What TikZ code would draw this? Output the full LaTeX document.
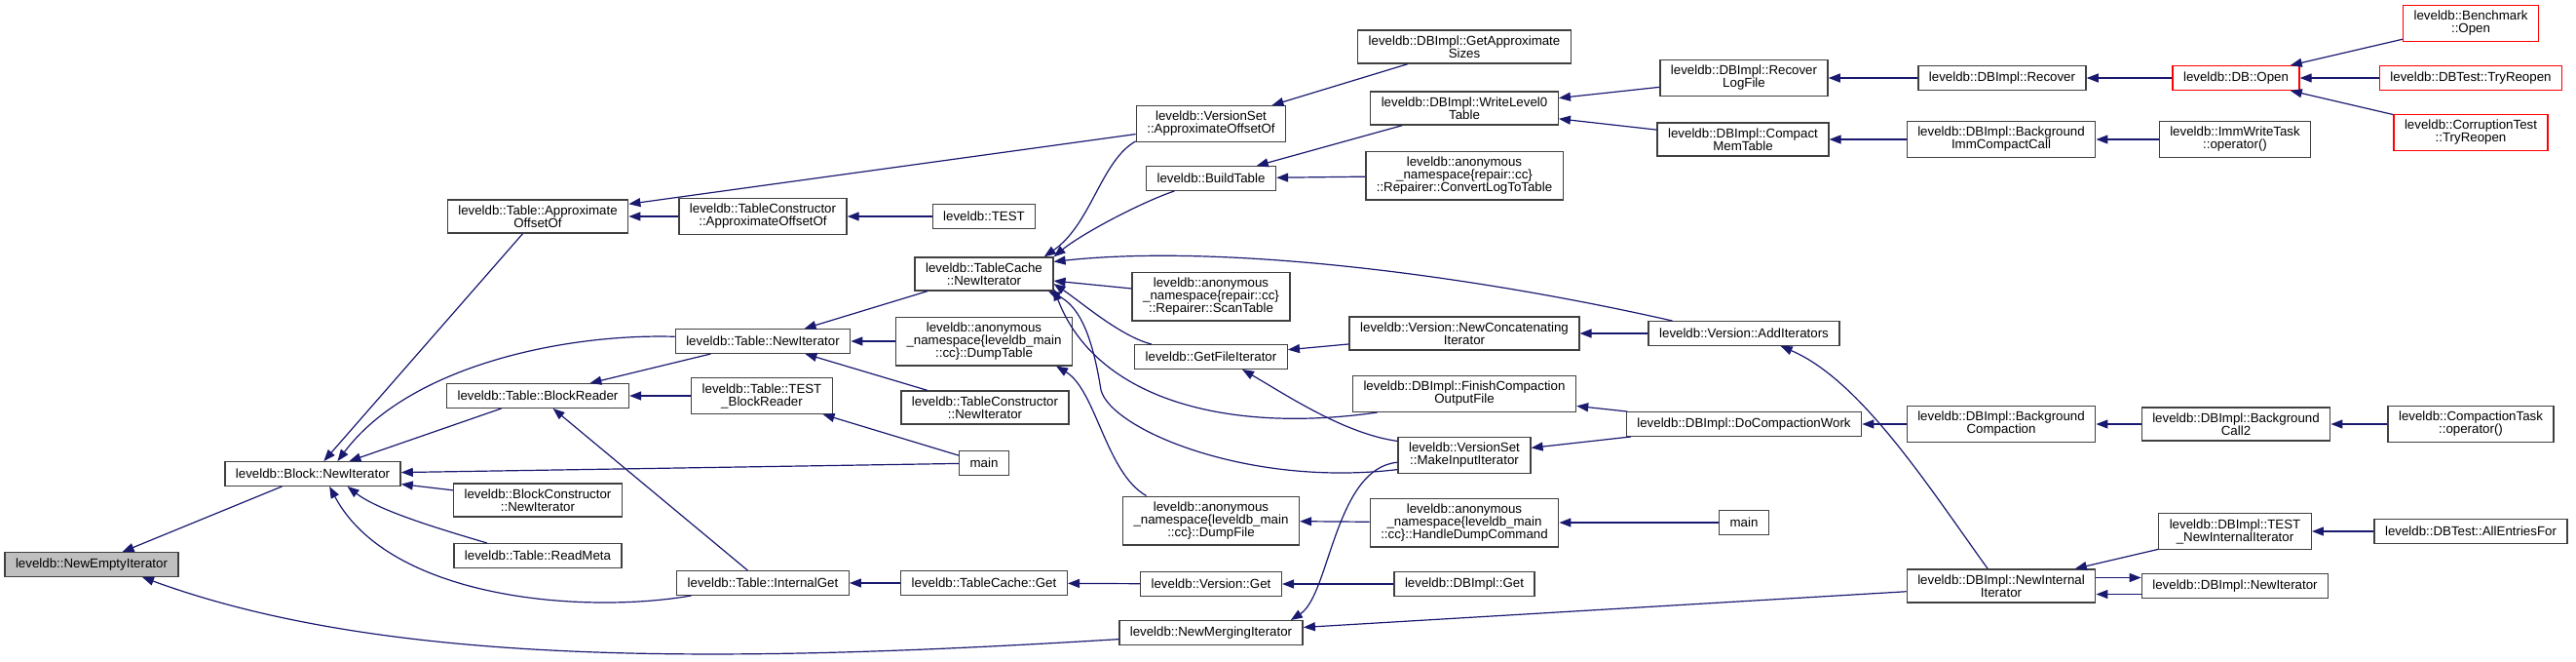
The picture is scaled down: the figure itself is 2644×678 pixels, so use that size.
\documentclass[tikz,border=0pt]{standalone}
\usepackage{fontspec}
\setmainfont{Liberation Sans}
\usetikzlibrary{arrows.meta}
\definecolor{edgeblue}{RGB}{25,25,112}

\begin{document}
\begin{tikzpicture}[
  x=1pt,y=-1pt,
  box/.style={draw=black!75,line width=1.4pt,fill=white,align=center,
              inner xsep=11pt,inner ysep=5.6pt,minimum height=24.5pt,
              font=\fontsize{13.3}{13}\selectfont},
  focus/.style={box,fill=black!25},
  truncated/.style={box,draw=red},
  arrow/.style={-{Triangle[length=12pt,width=9pt]},edgeblue,line width=1.2pt}
]
  \useasboundingbox (0,0) rectangle (2644,678);
  \node[focus] (nempty) at (94,579) {leveldb::NewEmptyIterator};
  \node[box] (blockit) at (321,486) {leveldb::Block::NewIterator};
  \node[box] (tapprox) at (552,222) {leveldb::Table::Approximate\\OffsetOf};
  \node[box] (tcapprox) at (783,222) {leveldb::TableConstructor\\::ApproximateOffsetOf};
  \node[box] (test) at (1010,222) {leveldb::TEST};
  \node[box] (vsapprox) at (1243,127) {leveldb::VersionSet\\::ApproximateOffsetOf};
  \node[box] (getsizes) at (1503,48) {leveldb::DBImpl::GetApproximate\\Sizes};
  \node[box] (buildtab) at (1243,183) {leveldb::BuildTable};
  \node[box] (writel0) at (1503,111) {leveldb::DBImpl::WriteLevel0\\Table};
  \node[box] (convlog) at (1503,180) {leveldb::anonymous\\\_namespace\{repair::cc\}\\::Repairer::ConvertLogToTable};
  \node[box] (recoverlog) at (1790,80) {leveldb::DBImpl::Recover\\LogFile};
  \node[box] (compactmem) at (1789,143) {leveldb::DBImpl::Compact\\MemTable};
  \node[box] (recover) at (2055,80) {leveldb::DBImpl::Recover};
  \node[box] (immcall) at (2054,143) {leveldb::DBImpl::Background\\ImmCompactCall};
  \node[truncated] (dbopen) at (2295,80) {leveldb::DB::Open};
  \node[truncated] (benchopen) at (2536,24) {leveldb::Benchmark\\::Open};
  \node[truncated] (dbtreopen) at (2536,80) {leveldb::DBTest::TryReopen};
  \node[truncated] (corrreopen) at (2536,136) {leveldb::CorruptionTest\\::TryReopen};
  \node[box] (immtask) at (2294,143) {leveldb::ImmWriteTask\\::operator()};
  \node[box] (tcacheit) at (1010,281) {leveldb::TableCache\\::NewIterator};
  \node[box] (scantab) at (1243,304) {leveldb::anonymous\\\_namespace\{repair::cc\}\\::Repairer::ScanTable};
  \node[box] (tnewit) at (783,350) {leveldb::Table::NewIterator};
  \node[box] (dumptab) at (1010,350) {leveldb::anonymous\\\_namespace\{leveldb\_main\\::cc\}::DumpTable};
  \node[box] (tcnewit) at (1011,418) {leveldb::TableConstructor\\::NewIterator};
  \node[box] (getfileit) at (1243,366) {leveldb::GetFileIterator};
  \node[box] (newconcat) at (1503,342) {leveldb::Version::NewConcatenating\\Iterator};
  \node[box] (additers) at (1790,342) {leveldb::Version::AddIterators};
  \node[box] (blockread) at (552,406) {leveldb::Table::BlockReader};
  \node[box] (testblock) at (782,406) {leveldb::Table::TEST\\\_BlockReader};
  \node[box] (finishout) at (1503,404) {leveldb::DBImpl::FinishCompaction\\OutputFile};
  \node[box] (mkinput) at (1503,467) {leveldb::VersionSet\\::MakeInputIterator};
  \node[box] (docompact) at (1790,435) {leveldb::DBImpl::DoCompactionWork};
  \node[box] (bgcompact) at (2054,435) {leveldb::DBImpl::Background\\Compaction};
  \node[box] (bgcall) at (2295,435) {leveldb::DBImpl::Background\\Call2};
  \node[box] (comptask) at (2536,435) {leveldb::CompactionTask\\::operator()};
  \node[box] (mainA) at (1010,475) {main};
  \node[box] (bcnewit) at (552,513) {leveldb::BlockConstructor\\::NewIterator};
  \node[box] (dumpfile) at (1243,534) {leveldb::anonymous\\\_namespace\{leveldb\_main\\::cc\}::DumpFile};
  \node[box] (handledump) at (1503,536) {leveldb::anonymous\\\_namespace\{leveldb\_main\\::cc\}::HandleDumpCommand};
  \node[box] (mainB) at (1790,536) {main};
  \node[box] (readmeta) at (552,570) {leveldb::Table::ReadMeta};
  \node[box] (internalget) at (783,598) {leveldb::Table::InternalGet};
  \node[box] (tcget) at (1010,598) {leveldb::TableCache::Get};
  \node[box] (versget) at (1243,599) {leveldb::Version::Get};
  \node[box] (dbget) at (1503,599) {leveldb::DBImpl::Get};
  \node[box] (testinternal) at (2294,545) {leveldb::DBImpl::TEST\\\_NewInternalIterator};
  \node[box] (allentries) at (2536,545) {leveldb::DBTest::AllEntriesFor};
  \node[box] (newinternal) at (2054,601) {leveldb::DBImpl::NewInternal\\Iterator};
  \node[box] (dbnewit) at (2294,601) {leveldb::DBImpl::NewIterator};
  \node[box] (nmerge) at (1243,649) {leveldb::NewMergingIterator};
  \draw[arrow] (blockit)--(nempty);
  \draw[arrow] (nmerge.184) .. controls (750,680) and (400,685) .. (nempty.-14);
  \draw[arrow] (tapprox)--(blockit);
  \draw[arrow] (tnewit.177) .. controls (580,342) and (420,375) .. (blockit.27);
  \draw[arrow] (blockread)--(blockit);
  \draw[arrow] (mainA)--(blockit);
  \draw[arrow] (bcnewit)--(blockit);
  \draw[arrow] (readmeta.166) .. controls (460,545) and (390,525) .. (blockit.-20);
  \draw[arrow] (internalget.190) .. controls (600,630) and (400,615) .. (blockit.-37);
  \draw[arrow] (tcapprox)--(tapprox);
  \draw[arrow] (vsapprox)--(tapprox);
  \draw[arrow] (test)--(tcapprox);
  \draw[arrow] (tcacheit)--(tnewit);
  \draw[arrow] (dumptab)--(tnewit);
  \draw[arrow] (tcnewit)--(tnewit);
  \draw[arrow] (tnewit)--(blockread);
  \draw[arrow] (testblock)--(blockread);
  \draw[arrow] (internalget)--(blockread);
  \draw[arrow] (mainA)--(testblock);
  \draw[arrow] (tcget)--(internalget);
  \draw[arrow] (versget)--(tcget);
  \draw[arrow] (dbget)--(versget);
  \draw[arrow] (vsapprox.193) .. controls (1130,165) and (1120,230) .. (tcacheit.16);
  \draw[arrow] (buildtab.199) .. controls (1170,208) and (1110,240) .. (tcacheit.north east);
  \draw[arrow] (scantab)--(tcacheit);
  \draw[arrow] (additers.170) .. controls (1500,280) and (1250,250) .. (tcacheit.10);
  \draw[arrow] (getfileit.168) .. controls (1150,345) and (1110,310) .. (tcacheit.-8);
  \draw[arrow] (finishout.192) .. controls (1260,445) and (1125,410) .. (tcacheit.-12);
  \draw[arrow] (mkinput.192) .. controls (1280,500) and (1140,440) .. (1130,400)
    .. controls (1122,350) and (1110,315) .. (tcacheit.-15);
  \draw[arrow] (dumpfile.159) .. controls (1135,485) and (1125,400) .. (dumptab.-19);
  \draw[arrow] (handledump)--(dumpfile);
  \draw[arrow] (mainB)--(handledump);
  \draw[arrow] (newconcat)--(getfileit);
  \draw[arrow] (mkinput.168) .. controls (1380,445) and (1320,405) .. (getfileit.-22);
  \draw[arrow] (additers)--(newconcat);
  \draw[arrow] (docompact)--(finishout);
  \draw[arrow] (docompact)--(mkinput);
  \draw[arrow] (bgcompact)--(docompact);
  \draw[arrow] (bgcall)--(bgcompact);
  \draw[arrow] (comptask)--(bgcall);
  \draw[arrow] (mkinput.186) .. controls (1370,480) and (1365,610) .. (nmerge.9);
  \draw[arrow] (newinternal)--(nmerge);
  \draw[arrow] (newinternal.128) .. controls (1980,500) and (1910,390) .. (additers.-19);
  \draw[arrow] (writel0)--(buildtab);
  \draw[arrow] (convlog)--(buildtab);
  \draw[arrow] (recoverlog)--(writel0);
  \draw[arrow] (compactmem)--(writel0);
  \draw[arrow] (getsizes)--(vsapprox);
  \draw[arrow] (recover)--(recoverlog);
  \draw[arrow] (dbopen)--(recover);
  \draw[arrow] (benchopen)--(dbopen);
  \draw[arrow] (dbtreopen)--(dbopen);
  \draw[arrow] (corrreopen)--(dbopen);
  \draw[arrow] (immcall)--(compactmem);
  \draw[arrow] (immtask)--(immcall);
  \draw[arrow] (allentries)--(testinternal);
  \draw[arrow] (testinternal)--(newinternal);
  \draw[arrow] ([yshift=8.5pt]newinternal.east)--([yshift=8.5pt]dbnewit.west);
  \draw[arrow] ([yshift=-8.5pt]dbnewit.west)--([yshift=-8.5pt]newinternal.east);
\end{tikzpicture}
\end{document}
